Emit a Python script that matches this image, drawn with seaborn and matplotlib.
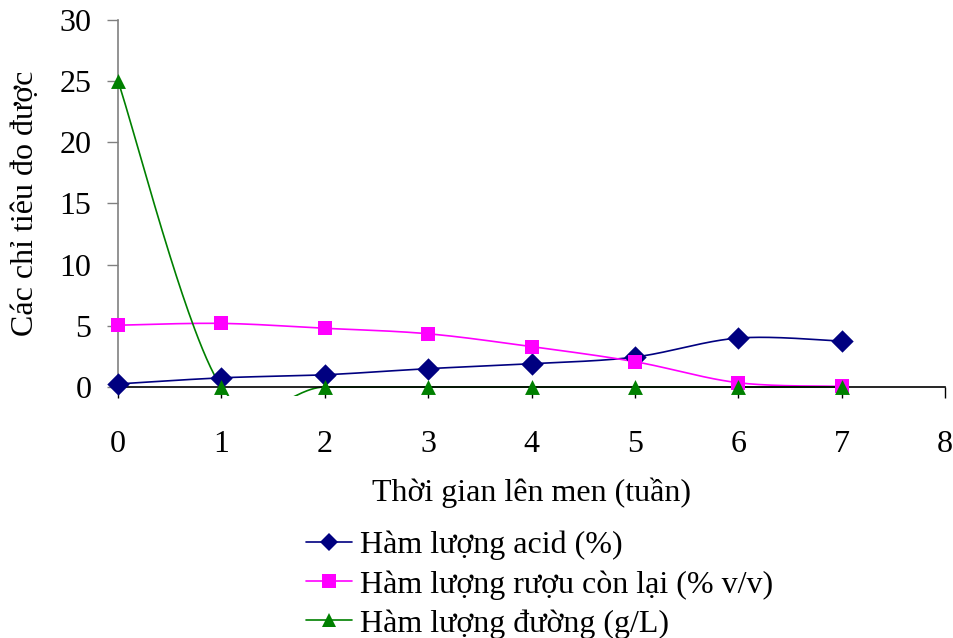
import numpy as np
import pandas as pd
import matplotlib
matplotlib.use("Agg")
import matplotlib.pyplot as plt
import seaborn as sns
from matplotlib.lines import Line2D
from matplotlib.transforms import Bbox, TransformedBbox

# Weekly measurements during fermentation
weeks = [0, 1, 2, 3, 4, 5, 6, 7]
acid = [0.25, 0.75, 1.0, 1.5, 1.9, 2.45, 4.0, 3.75]          # %
ruou = [5.05, 5.2, 4.8, 4.35, 3.3, 2.07, 0.35, 0.05]         # % v/v
duong = [25.0, 0.0, 0.0, 0.0, 0.0, 0.0, 0.0, 0.0]            # g/L

labels = ["Hàm lượng acid (%)",
          "Hàm lượng rượu còn lại (% v/v)",
          "Hàm lượng đường (g/L)"]
colors = ["#000080", "#FF00FF", "#008000"]
markers = ["D", "s", "^"]
msizes = [130, 100, 115]


def smooth_curve(x, y, n=60):
    """Cardinal (Catmull-Rom) Bezier smoothing through every point."""
    x = np.asarray(x, float)
    y = np.asarray(y, float)
    px = np.concatenate([[x[0]], x, [x[-1]]])
    py = np.concatenate([[y[0]], y, [y[-1]]])
    out_x, out_y = [], []
    t = np.linspace(0, 1, n)
    for i in range(1, len(px) - 2):
        p0 = np.array([px[i], py[i]])
        p3 = np.array([px[i + 1], py[i + 1]])
        c1 = p0 + (np.array([px[i + 1], py[i + 1]]) - np.array([px[i - 1], py[i - 1]])) / 6
        c2 = p3 - (np.array([px[i + 2], py[i + 2]]) - np.array([px[i], py[i]])) / 6
        b = ((1 - t) ** 3)[:, None] * p0 + (3 * (1 - t) ** 2 * t)[:, None] * c1 \
            + (3 * (1 - t) * t ** 2)[:, None] * c2 + (t ** 3)[:, None] * p3
        out_x.extend(b[:, 0])
        out_y.extend(b[:, 1])
    return np.array(out_x), np.array(out_y)


sns.set_theme(style="white")
plt.rcParams["font.family"] = ["Liberation Serif", "DejaVu Serif"]
plt.rcParams["font.size"] = 23
plt.rcParams["text.color"] = "black"
plt.rcParams["axes.labelcolor"] = "black"
plt.rcParams["xtick.color"] = "black"
plt.rcParams["ytick.color"] = "black"

FS = 23

fig = plt.figure(figsize=(9.54, 6.38), dpi=100)
ax = fig.add_axes([0.1237, 0.3934, 0.8669, 0.5753])

# plot area extends slightly below the category axis
clip = TransformedBbox(Bbox([[0, -0.025], [1, 1]]), ax.transAxes)

series = [acid, ruou, duong]
for vals, col, mk, ms in zip(series, colors, markers, msizes):
    sx, sy = smooth_curve(weeks, vals)
    n_before = len(ax.lines)
    sns.lineplot(x=sx, y=sy, ax=ax, color=col, linewidth=1.2,
                 sort=False, estimator=None)
    for ln in ax.lines[n_before:]:
        ln.set_clip_box(clip)
    df = pd.DataFrame({"week": weeks, "value": vals})
    sns.scatterplot(data=df, x="week", y="value", ax=ax, color=col,
                    marker=mk, s=ms, linewidth=0, clip_on=False, zorder=5)

ax.set_xlim(0, 8)
ax.set_ylim(0, 30)
ax.set_xticks(range(0, 9))
ax.set_yticks(range(0, 31, 5))
ax.tick_params(axis="x", direction="out", length=8, width=1, color="black",
               labelcolor="black", pad=23, labelsize=FS)
ax.tick_params(axis="y", direction="out", length=8, width=1, color="#808080",
               labelcolor="black", pad=11, labelsize=FS)
ax.tick_params(bottom=True, left=True)
for s in ["top", "right"]:
    ax.spines[s].set_visible(False)
ax.spines["left"].set_color("#808080")
ax.spines["left"].set_linewidth(1.2)
ax.spines["bottom"].set_color("black")
ax.spines["bottom"].set_linewidth(1.2)

ax.set_xlabel("Thời gian lên men (tuần)", fontsize=FS, labelpad=13, color="black")
ax.set_ylabel("Các chỉ tiêu đo được", fontsize=FS, labelpad=14, color="black")

handles = [Line2D([0], [0], color=c, marker=m, markersize=10 if m != "D" else 9,
                  markeredgewidth=0, linewidth=1.2)
           for c, m in zip(colors, markers)]
fig.legend(handles, labels, loc="upper left",
           bbox_to_anchor=(306 / 954, 1 - 531 / 638), frameon=False,
           fontsize=FS, handlelength=1.45, handletextpad=0.25,
           labelspacing=0.3, borderpad=0, borderaxespad=0)

fig.savefig("out.png", dpi=100)
